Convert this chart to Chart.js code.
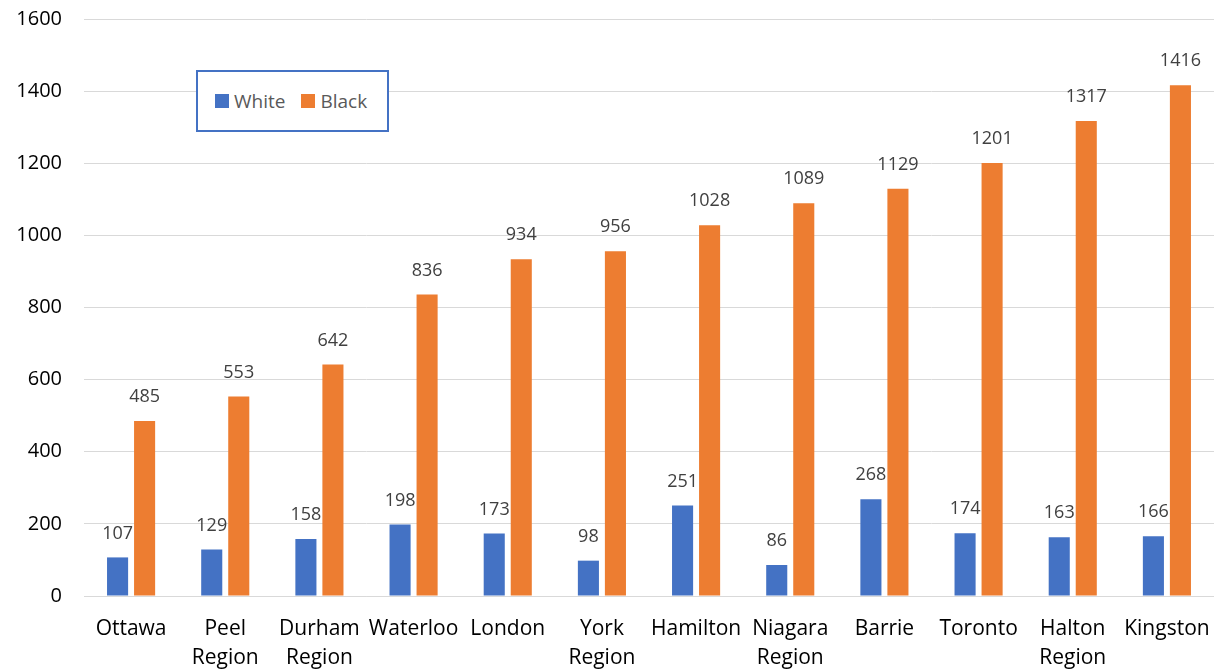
<!DOCTYPE html>
<html>
<head>
<meta charset="utf-8">
<script src="https://cdn.jsdelivr.net/npm/chart.js@4"></script>
<style>
  html, body { margin: 0; padding: 0; background: #fff; }
  #wrap { position: relative; width: 1214px; height: 670px; }
  #legend {
    position: absolute; left: 196px; top: 70px; width: 193px; height: 62px;
    border: 2px solid #4472c4; box-sizing: border-box; background: #fff;
    font-family: "Open Sans", sans-serif; font-size: 19px; color: #595959;
    display: flex; align-items: center; padding-left: 17px;
  }
  #legend span.sw { display: inline-block; width: 14px; height: 14px; margin-right: 5px; }
  #legend span.item { display: inline-flex; align-items: center; margin-right: 16px; }
</style>
</head>
<body>
<div id="wrap">
  <canvas id="chart" width="1214" height="670"></canvas>
  <div id="legend">
    <span class="item"><span class="sw" style="background:#4472c4"></span>White</span>
    <span class="item"><span class="sw" style="background:#ed7d31"></span>Black</span>
  </div>
</div>
<script>
var categories = [["Ottawa"], ["Peel", "Region"], ["Durham", "Region"], ["Waterloo"], ["London"],
  ["York", "Region"], ["Hamilton"], ["Niagara", "Region"], ["Barrie"], ["Toronto"], ["Halton", "Region"], ["Kingston"]];
var whiteValues = [107, 129, 158, 198, 173, 98, 251, 86, 268, 174, 163, 166];
var blackValues = [485, 553, 642, 836, 934, 956, 1028, 1089, 1129, 1201, 1317, 1416];

// value labels above each bar
var barLabels = {
    id: "barLabels",
    afterDatasetsDraw: function(chart) {
        var ctx = chart.ctx;
        ctx.save();
        ctx.font = "18px 'Open Sans', sans-serif";
        ctx.fillStyle = "#404040";
        ctx.textAlign = "center";
        ctx.textBaseline = "middle";
        chart.data.datasets.forEach(function(ds, i) {
            chart.getDatasetMeta(i).data.forEach(function(bar, j) {
                ctx.fillText(ds.data[j], bar.x, bar.y - 24);
            });
        });
        ctx.restore();
    }
};

var ctx = document.getElementById("chart").getContext("2d");

new Chart(ctx, {
    type: "bar",
    data: {
        labels: categories,
        datasets: [
            { label: "White", data: whiteValues, backgroundColor: "#4472c4",
              categoryPercentage: 0.574, barPercentage: 0.78 },
            { label: "Black", data: blackValues, backgroundColor: "#ed7d31",
              categoryPercentage: 0.574, barPercentage: 0.78 }
        ]
    },
    options: {
        responsive: false,
        animation: false,
        layout: { padding: { top: 19, right: 0, left: 0, bottom: 0 } },
        plugins: {
            legend: { display: false },
            tooltip: { enabled: false }
        },
        scales: {
            x: {
                grid: { display: true, drawOnChartArea: false, drawTicks: true, tickLength: 19, tickColor: "rgba(0,0,0,0)" },
                border: { color: "#d9d9d9", width: 1 },
                ticks: { color: "#000", font: { family: "'Open Sans', sans-serif", size: 21, lineHeight: 1.38 },
                         maxRotation: 0, autoSkip: false, padding: 0 },
                afterFit: function(axis) { axis.height = 74; }
            },
            y: {
                min: 0, max: 1600,
                ticks: { stepSize: 200, color: "#000", font: { family: "'Open Sans', sans-serif", size: 20 }, padding: 0,
                         callback: function(v) { return String(v); } },
                grid: { color: "#d9d9d9", lineWidth: 1, drawTicks: true, tickLength: 22, tickColor: "rgba(0,0,0,0)" },
                border: { display: false },
                afterFit: function(axis) { axis.width = 84; }
            }
        }
    },
    plugins: [barLabels]
});
</script>
</body>
</html>
